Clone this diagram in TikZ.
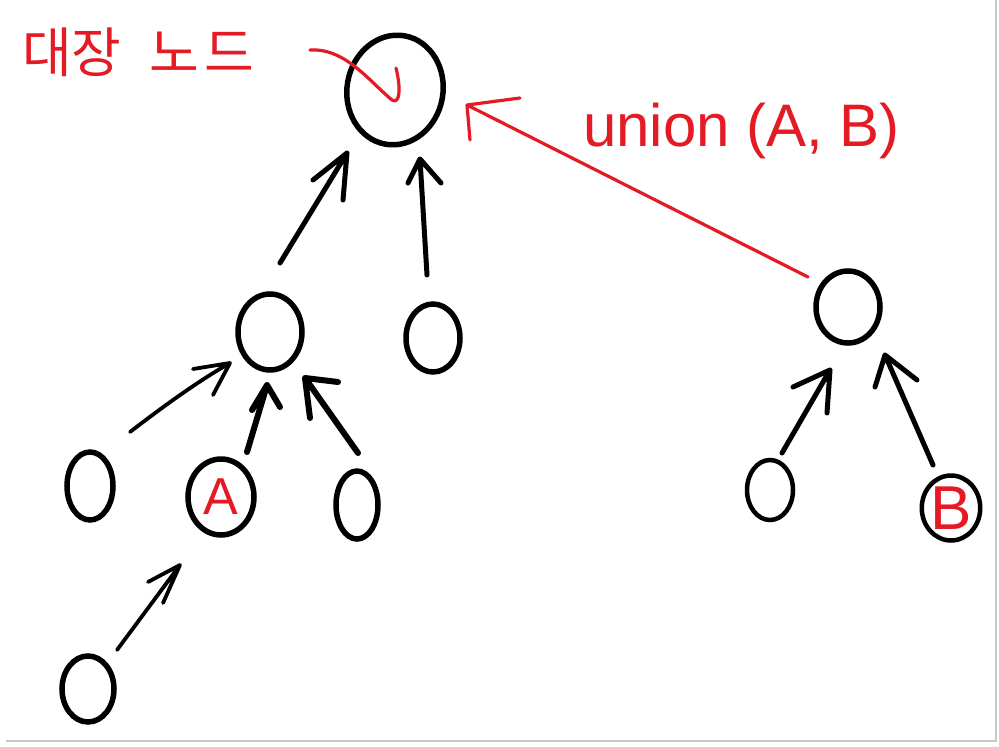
\documentclass[tikz,border=0pt]{standalone}
\usepackage{fontspec}
\setmainfont{Liberation Sans}
\newfontfamily\kofont{Noto Sans CJK KR}
\usetikzlibrary{shapes.geometric}
\definecolor{pen}{RGB}{228,26,36}
\begin{document}
\begin{tikzpicture}[x=1pt,y=-1pt,
  nd/.style={ellipse, draw=black, line width=5.5pt, inner sep=0pt},
  arr/.style={draw=black, line width=5pt, line cap=round, line join=round},
  redarr/.style={draw=pen, line width=3.2pt, line cap=round, line join=round},
  inl/.style={text=pen, font=\fontsize{52}{52}\selectfont}
]
\useasboundingbox (0,0) rectangle (999,747);
\fill[white] (0,0) rectangle (999,747);
\draw[black!22, line width=2pt] (996,0) -- (996,741) -- (6,741);

% nodes
\node[nd, minimum width=96, minimum height=110, rotate=-10] (root) at (395,90) {};
\node[nd, minimum width=64, minimum height=76] (p) at (270,332) {};
\node[nd, minimum width=54, minimum height=68] (q) at (433,338) {};
\node[nd, minimum width=64, minimum height=72] (r) at (848,307) {};
\node[nd, minimum width=46, minimum height=68] (c1) at (90,486) {};
\node[nd, minimum width=66, minimum height=76, inl] (a) at (221,497) {A};
\node[nd, minimum width=42, minimum height=68] (c3) at (357,505) {};
\node[nd, minimum width=46, minimum height=60, line width=4.5pt] (d1) at (770,490) {};
\node[nd, minimum width=53, minimum height=65, line width=4.5pt, inl, font=\fontsize{62}{62}\selectfont] (b) at (951,508) {B};
\node[nd, minimum width=52, minimum height=66] (e) at (88,689) {};

% labels
\node[anchor=west, text=pen, inner sep=0pt, font=\kofont\fontsize{54}{54}\selectfont] (leader) at (22,52) {대장\hspace{28pt}노\hspace{5pt}드};
\node[anchor=base west, text=pen, inner sep=0pt, font=\fontsize{60}{60}\selectfont] (union) at (583,146) {union (A, B)};

% arrow coordinates
\coordinate (pT) at (280,263); \coordinate (pH) at (347,153);
\coordinate (pH1) at (313,180); \coordinate (pH2) at (343,200);
\coordinate (qT) at (427,275); \coordinate (qH) at (420,159);
\coordinate (qH1) at (408,183); \coordinate (qH2) at (441,183);
\coordinate (rT) at (808,277); \coordinate (rH) at (467,105);
\coordinate (rH1) at (520,98); \coordinate (rH2) at (470,140);
\coordinate (c1T) at (130,432); \coordinate (c1H) at (230,363);
\coordinate (c1H1) at (193,369); \coordinate (c1H2) at (213,395);
\coordinate (aT) at (247,452); \coordinate (aH) at (267,385);
\coordinate (aH1) at (252,410); \coordinate (aH2) at (280,407);
\coordinate (c3T) at (358,453); \coordinate (c3H) at (305,378);
\coordinate (c3H1) at (338,382); \coordinate (c3H2) at (310,418);
\coordinate (eT) at (117,650); \coordinate (eH) at (180,565);
\coordinate (eH1) at (148,582); \coordinate (eH2) at (163,603);
\coordinate (d1T) at (782,453); \coordinate (d1H) at (830,370);
\coordinate (d1H1) at (793,387); \coordinate (d1H2) at (827,413);
\coordinate (bT) at (933,465); \coordinate (bH) at (885,355);
\coordinate (bH1) at (875,387); \coordinate (bH2) at (917,380);
\coordinate (ldS) at (310,50); \coordinate (ldE) at (396,68);

% black arrows
\draw[arr] (pT) -- (pH) (pH1) -- (pH) -- (pH2);
\draw[arr] (qT) -- (qH) (qH1) -- (qH) -- (qH2);
\draw[arr, line width=3.8pt] (c1T) .. controls (165,405) and (200,380) .. (c1H) (c1H1) -- (c1H) -- (c1H2);
\draw[arr, line width=6pt] (aT) -- (aH) (aH1) -- (aH) -- (aH2);
\draw[arr, line width=6pt] (c3T) -- (c3H) (c3H1) -- (c3H) -- (c3H2);
\draw[arr, line width=3.8pt] (eT) -- (eH) (eH1) -- (eH) -- (eH2);
\draw[arr] (d1T) -- (d1H) (d1H1) -- (d1H) -- (d1H2);
\draw[arr] (bT) -- (bH) (bH1) -- (bH) -- (bH2);

% red arrows
\draw[redarr] (rT) -- (rH) (rH1) -- (rH) -- (rH2);
\draw[redarr] (ldS) .. controls (345,48) and (368,80) .. (392,100) .. controls (400,105) and (401,88) .. (ldE);
\end{tikzpicture}
\end{document}
